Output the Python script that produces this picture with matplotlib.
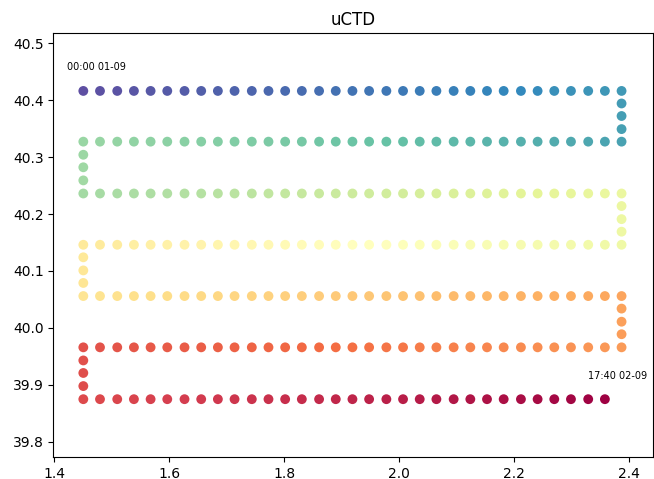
import matplotlib
matplotlib.use("Agg")
import matplotlib.pyplot as plt
import numpy as np

# station longitudes along one transect
lons = [1.451, 1.480, 1.510, 1.539, 1.568, 1.597, 1.627, 1.656, 1.685, 1.714,
        1.744, 1.773, 1.802, 1.831, 1.861, 1.890, 1.919, 1.948, 1.978, 2.007,
        2.036, 2.065, 2.095, 2.124, 2.153, 2.182, 2.212, 2.241, 2.270, 2.299,
        2.329, 2.358, 2.387]

# latitude of each transect, top to bottom
row_lats = [40.416, 40.327, 40.236, 40.146, 40.056, 39.966, 39.875]

# stations on the short legs between transects
turn_lats = [
    [40.394, 40.372, 40.349],
    [40.304, 40.282, 40.259],
    [40.214, 40.191, 40.169],
    [40.124, 40.101, 40.079],
    [40.034, 40.011, 39.989],
    [39.943, 39.921, 39.898],
]

# the last transect stops one station short
last_row_count = 32

start_label = "00:00 01-09"
end_label = "17:40 02-09"

# walk the lawnmower path
x, y = [], []
for i, lat in enumerate(row_lats):
    row = lons if i < len(row_lats) - 1 else lons[:last_row_count]
    if i % 2 == 1:
        row = row[::-1]
    x += list(row)
    y += [lat] * len(row)
    if i < len(turn_lats):
        side = lons[-1] if i % 2 == 0 else lons[0]
        x += [side] * len(turn_lats[i])
        y += turn_lats[i]

x = np.array(x)
y = np.array(y)
order = np.arange(len(x))

fig = plt.figure(figsize=(6.54, 4.79), dpi=100)
ax = fig.add_axes([0.0815, 0.0453, 0.917, 0.885])

ax.scatter(x, y, c=order, cmap="Spectral_r", s=50, edgecolors="none")

ax.text(1.422, 40.458, start_label, fontsize=7, ha="left", va="center")
ax.text(2.329, 39.916, end_label, fontsize=7, ha="left", va="center")

ax.set_xlim(1.3988, 2.4417)
ax.set_ylim(39.773, 40.517)
ax.set_xticks([1.4, 1.6, 1.8, 2.0, 2.2, 2.4])
ax.set_title("uCTD")

fig.savefig("out.png", dpi=100)
